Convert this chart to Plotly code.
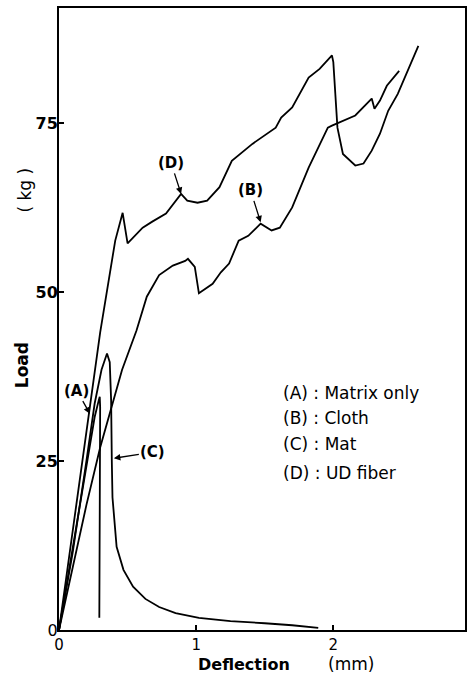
import plotly.graph_objects as go

# Curve (A) Matrix only
a_x = [0.0, 0.10, 0.20, 0.26, 0.29, 0.297, 0.300, 0.296, 0.294]
a_y = [0.0, 12.0, 24.5, 31.5, 34.0, 34.5, 33.0, 10.0, 1.8]

# Curve (B) Cloth
b_x = [0.0, 0.10, 0.20, 0.30, 0.37, 0.46, 0.565, 0.64, 0.73, 0.83, 0.92, 0.94, 0.99, 1.02,
       1.12, 1.18, 1.24, 1.31, 1.38, 1.47, 1.55, 1.61, 1.70, 1.82, 1.96, 1.99, 2.16, 2.28,
       2.30, 2.34, 2.39, 2.48]
b_y = [0.0, 9.5, 18.5, 27.0, 32.2, 38.5, 44.3, 49.3, 52.5, 53.9, 54.6, 54.9, 53.7, 49.8,
       51.2, 52.9, 54.2, 57.6, 58.3, 60.1, 59.1, 59.5, 62.5, 68.4, 74.3, 74.6, 76.1, 78.6,
       77.1, 78.3, 80.5, 82.7]

# Curve (C) Mat
c_x = [0.0, 0.10, 0.20, 0.26, 0.31, 0.35, 0.37, 0.38, 0.385, 0.39, 0.42, 0.47, 0.54, 0.63,
       0.73, 0.85, 1.02, 1.25, 1.50, 1.70, 1.89]
c_y = [0.0, 11.5, 25.0, 33.5, 38.5, 40.9, 39.6, 34.0, 25.0, 19.6, 12.3, 8.9, 6.4, 4.6,
       3.4, 2.5, 1.8, 1.3, 1.0, 0.7, 0.3]

# Curve (D) UD fiber
d_x = [0.0, 0.10, 0.20, 0.30, 0.41, 0.464, 0.50, 0.61, 0.68, 0.78, 0.89, 0.935, 1.01, 1.08,
       1.17, 1.26, 1.41, 1.58, 1.62, 1.70, 1.82, 1.90, 1.99, 2.00, 2.03, 2.07, 2.16, 2.22,
       2.28, 2.34, 2.40, 2.47, 2.62]
d_y = [0.0, 14.5, 29.5, 44.0, 57.6, 61.7, 57.2, 59.5, 60.4, 61.6, 64.5, 63.5, 63.2, 63.5,
       65.5, 69.4, 71.9, 74.3, 75.8, 77.3, 81.7, 83.0, 85.0, 84.0, 74.3, 70.4, 68.7, 69.0,
       70.9, 73.4, 76.8, 79.3, 86.4]

x_ticks = [0, 1, 2]
y_ticks = [0, 25, 50, 75]
legend_lines = ["(A) : Matrix only", "(B) : Cloth", "(C) : Mat", "(D) : UD fiber"]

FONT = "DejaVu Sans, Liberation Sans, Arial"

fig = go.Figure()
for xs, ys in [(a_x, a_y), (b_x, b_y), (c_x, c_y), (d_x, d_y)]:
    fig.add_trace(go.Scatter(x=xs, y=ys, mode="lines",
                             line=dict(color="black", width=1.8), showlegend=False))

font_b = dict(family=FONT, size=15, color="black")

# curve markers with arrows (head at data point, offset in px)
marks = [("(A)", 0.225, 32.0, -13, -23),
         ("(C)", 0.40, 25.4, 39, -6),
         ("(D)", 0.89, 64.5, -10, -31),
         ("(B)", 1.47, 60.3, -10, -32)]
for txt, hx, hy, ax, ay in marks:
    fig.add_annotation(x=hx, y=hy, text="<b>" + txt + "</b>", showarrow=True,
                       ax=ax, ay=ay, arrowhead=2, arrowsize=1, arrowwidth=1.3,
                       arrowcolor="black", font=font_b, standoff=0)

legend_y = [35.0, 31.3, 27.5, 23.2]
for txt, ly in zip(legend_lines, legend_y):
    fig.add_annotation(x=1.616, y=ly, text=txt, showarrow=False, xanchor="left",
                       font=dict(family=FONT, size=17, color="black"))

# axis titles
title_specs = [("<b>Load</b>", -0.0907, 0.426, -90, 17),
               ("( kg )", -0.083, 0.707, -90, 17),
               ("<b>Deflection</b>", 0.456, -0.0547, 0, 16),
               ("(mm)", 0.718, -0.0547, 0, 17)]
for txt, px, py, ang, sz in title_specs:
    fig.add_annotation(xref="paper", yref="paper", x=px, y=py, text=txt,
                       textangle=ang, showarrow=False, xanchor="center", yanchor="middle",
                       font=dict(family=FONT, size=sz, color="black"))

fig.update_xaxes(range=[0, 2.96], tickvals=x_ticks, ticktext=[str(v) for v in x_ticks],
                 showgrid=False, zeroline=False, showline=True, linecolor="black",
                 linewidth=2, mirror=True, ticks="inside", ticklen=5, tickcolor="black",
                 tickwidth=1.5,
                 tickfont=dict(family=FONT, size=15, color="black"))
fig.update_yaxes(range=[0, 92], tickvals=y_ticks,
                 ticktext=["<b>%d</b>" % v if v else "0" for v in y_ticks],
                 showgrid=False, zeroline=False, showline=True, linecolor="black",
                 linewidth=2, mirror=True, ticks="inside", ticklen=5, tickcolor="black",
                 tickwidth=1.5, ticklabelstandoff=-4,
                 tickfont=dict(family=FONT, size=16, color="black"))

fig.update_layout(width=470, height=673, margin=dict(l=59, r=3, t=8, b=43),
                  plot_bgcolor="white", paper_bgcolor="white")

fig.write_html("out.html")
